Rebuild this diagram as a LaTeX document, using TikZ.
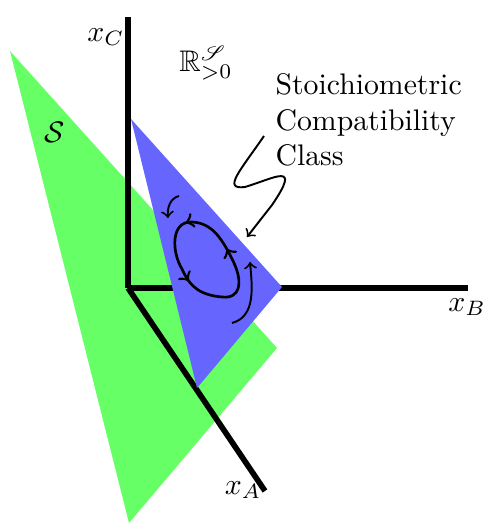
\documentclass[tikz,border=0pt]{standalone}
\usepackage{amssymb}
\usepackage{mathrsfs}
\usetikzlibrary{decorations.markings}

\tikzset{
  axis/.style={line width=1.9pt},
  traj/.style={line width=0.9pt},
  flow/.style={line width=0.65pt,->},
}

\begin{document}
\begin{tikzpicture}[x=0.336pt,y=0.336pt]
  \useasboundingbox (0,0) rectangle (486,523);
  \coordinate (O) at (128,235);
  \coordinate (A) at (265,32);
  \coordinate (B) at (468,235);
  \coordinate (C) at (128,506);

  % the affine set S
  \fill[green!60] (10,472) -- (129,0) -- (277,175) -- cycle;

  \draw[axis] (O) -- (A);
  \draw[axis] (O) -- (B);
  \draw[axis] (O) -- (C);

  % compatibility class
  \fill[blue!60] (131,404) -- (282,236) -- (197,135) -- cycle;

  \node (xA) at (243,33) {$x_A$};
  \node (xB) at (467,216) {$x_B$};
  \node (xC) at (106,486) {$x_C$};
  \node (Rpos) at (206,460) {$\mathbb{R}^{\mathscr{S}}_{>0}$};
  \node (S) at (55,391) {$\mathcal{S}$};
  \node[align=left,anchor=west,inner sep=0] (scc) at (275,403)
    {Stoichiometric\\Compatibility\\Class};

  \coordinate (scc start) at (264,387);
  \coordinate (scc tip) at (247,286);
  \draw[flow] (scc start) .. controls (240,352) and (222,333) .. (245,336)
    .. controls (275,345) and (302,362) .. (272,318) -- (scc tip);

  % periodic orbit and nearby trajectories
  \draw[traj, postaction={decorate}, decoration={markings,
      mark=at position 0.03 with {\arrow{>}},
      mark=at position 0.33 with {\arrow{>}},
      mark=at position 0.79 with {\arrow{>}}}]
    (192,301) .. controls (170,302) and (172,270) .. (182,254)
    .. controls (190,236) and (200,228) .. (222,226)
    .. controls (240,224) and (243,240) .. (234,260)
    .. controls (222,285) and (212,300) .. cycle;
  \draw[flow] (179,327) to[out=195,in=95] (168,305);
  \draw[flow] (232,200) to[out=15,in=-85] (250,261);
\end{tikzpicture}
\end{document}
